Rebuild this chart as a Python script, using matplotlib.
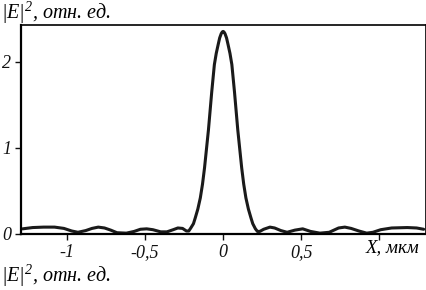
import matplotlib
matplotlib.use("Agg")
import matplotlib.pyplot as plt

plt.rcParams["font.family"] = ["Liberation Serif", "DejaVu Serif"]
plt.rcParams["font.style"] = "italic"
plt.rcParams["mathtext.fontset"] = "custom"
plt.rcParams["mathtext.rm"] = "Liberation Serif:italic"
plt.rcParams["mathtext.it"] = "Liberation Serif:italic"

# intensity profile (x in um, |E|^2 in rel. units)
x_um = [-1.285, -1.22, -1.15, -1.08, -1.02, -0.97, -0.93, -0.88, -0.84, -0.80,
        -0.76, -0.72, -0.68, -0.62, -0.57, -0.53, -0.49, -0.45, -0.40, -0.36,
        -0.32, -0.29, -0.26, -0.235, -0.22, -0.207, -0.19, -0.178, -0.162, -0.146,
        -0.132, -0.119, -0.094, -0.073, -0.056, -0.044, -0.032, -0.022, -0.012, -0.005,
        0.0,
        0.005, 0.012, 0.022, 0.032, 0.044, 0.056, 0.073, 0.094, 0.119, 0.132,
        0.146, 0.162, 0.178, 0.19, 0.207, 0.22, 0.235, 0.26, 0.30, 0.33,
        0.37, 0.41, 0.46, 0.51, 0.56, 0.62, 0.68, 0.74, 0.78, 0.82,
        0.87, 0.92, 0.96, 1.01, 1.08, 1.18, 1.24, 1.285]
intensity = [0.06, 0.075, 0.08, 0.08, 0.065, 0.035, 0.02, 0.04, 0.065, 0.08,
             0.07, 0.045, 0.015, 0.01, 0.03, 0.055, 0.06, 0.05, 0.025, 0.025,
             0.05, 0.07, 0.065, 0.035, 0.035, 0.07, 0.12, 0.19, 0.29, 0.42,
             0.58, 0.77, 1.21, 1.65, 1.97, 2.10, 2.20, 2.28, 2.33, 2.35,
             2.355,
             2.35, 2.33, 2.28, 2.20, 2.10, 1.97, 1.65, 1.21, 0.77, 0.58,
             0.42, 0.29, 0.19, 0.12, 0.06, 0.03, 0.03, 0.055, 0.08, 0.07,
             0.04, 0.02, 0.045, 0.06, 0.03, 0.01, 0.02, 0.07, 0.08, 0.065,
             0.035, 0.01, 0.02, 0.05, 0.07, 0.075, 0.07, 0.055]

xticks = [-1, -0.5, 0, 0.5, 1]
xtick_labels = ["-1", "-0,5", "0", "0,5", ""]
yticks = [0, 1, 2]
ytick_labels = ["0", "1", "2"]

fig = plt.figure(figsize=(4.27, 2.90), dpi=100)
ax = fig.add_axes([21 / 427, 56 / 290, 405 / 427, 209 / 290])
ax.plot(x_um, intensity, color="#1a1a1a", lw=2.2,
        solid_joinstyle="round", solid_capstyle="round")

ax.set_xlim(-1.295, 1.30)
ax.set_ylim(0, 2.43)
ax.set_xticks(xticks)
ax.set_xticklabels(xtick_labels)
ax.set_yticks(yticks)
ax.set_yticklabels(ytick_labels)
ax.tick_params(direction="out", length=4, width=1, labelsize=13, pad=3, colors="#111111")

for side in ["left", "bottom"]:
    ax.spines[side].set_linewidth(1.6)
for side in ["top", "right"]:
    ax.spines[side].set_linewidth(1.2)

fig.text(366 / 427, 1 - 248 / 290, "X, мкм", fontsize=13.5, ha="left", va="center")
fig.text(1 / 427, 1 - 13 / 290, r"$|E|^2$, отн. ед.", fontsize=14.5, ha="left", va="center")
fig.text(1 / 427, 1 - 276 / 290, r"$|E|^2$, отн. ед.", fontsize=14.5, ha="left", va="center")

fig.savefig("out.png", dpi=100)
